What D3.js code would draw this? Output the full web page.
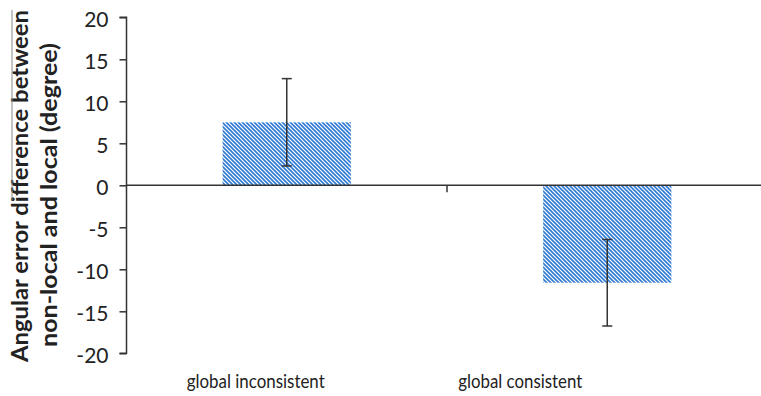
<!DOCTYPE html>
<html><head><meta charset="utf-8">
<script src="https://cdn.jsdelivr.net/npm/d3@7"></script>
<style>body{margin:0;background:#fff}svg{display:block}</style>
</head><body><svg id="c" width="761" height="396"></svg>
<script>
const categories = ["global inconsistent", "global consistent"];
const values = [7.5, -11.6];
const errors = [5.2, 5.15];
const yTicks = [-20, -15, -10, -5, 0, 5, 10, 15, 20];
const yTitle = ["Angular error difference between", "non-local and local (degree)"];

const svg = d3.select("#c");
const axisX = 126.5;
const x = d3.scaleBand().domain(categories).range([126.5, 767.5]).paddingInner(0).paddingOuter(0);
const y = d3.scaleLinear().domain([-20, 20]).range([353.3, 17.3]);
const barW = x.bandwidth() * 0.4;

const defs = svg.append("defs");
const pat = defs.append("pattern").attr("id", "hatch").attr("patternUnits", "userSpaceOnUse")
  .attr("width", 4).attr("height", 4);
pat.append("rect").attr("width", 4).attr("height", 4).attr("fill", "#fff");
pat.append("path").attr("d", "M-1,-1L5,5M-1,3L1,5M3,-1L5,1")
  .attr("stroke", "#2f7bd3").attr("stroke-width", 1.6);

// bars
svg.selectAll("rect.bar").data(values).join("rect").attr("class", "bar")
  .attr("x", (d, i) => x(categories[i]) + (x.bandwidth() - barW) / 2)
  .attr("width", barW)
  .attr("y", d => y(Math.max(0, d)))
  .attr("height", d => Math.abs(y(d) - y(0)))
  .attr("fill", "url(#hatch)");

// zero line
svg.append("line").attr("x1", axisX).attr("x2", 761).attr("y1", y(0)).attr("y2", y(0))
  .attr("stroke", "#333").attr("stroke-width", 1.5);
// category separator tick
svg.append("line").attr("x1", x(categories[1])).attr("x2", x(categories[1]))
  .attr("y1", y(0)).attr("y2", y(0) + 7).attr("stroke", "#333").attr("stroke-width", 1.5);

// error bars
const eb = svg.selectAll("g.eb").data(values).join("g").attr("class", "eb");
eb.each(function(d, i) {
  const g = d3.select(this);
  const cx = x(categories[i]) + x.bandwidth() / 2;
  const top = y(d + errors[i]), bot = y(d - errors[i]);
  g.append("line").attr("x1", cx).attr("x2", cx).attr("y1", top).attr("y2", bot);
  g.append("line").attr("x1", cx - 5).attr("x2", cx + 5).attr("y1", top).attr("y2", top);
  g.append("line").attr("x1", cx - 5).attr("x2", cx + 5).attr("y1", bot).attr("y2", bot);
  g.selectAll("line").attr("stroke", "#333").attr("stroke-width", 1.5);
});

// y axis
const yAxis = d3.axisLeft(y).tickValues(yTicks).tickSize(7).tickPadding(11).tickFormat(d => String(d));
const ga = svg.append("g").attr("transform", `translate(${axisX},0)`).call(yAxis);
ga.select(".domain").attr("stroke", "#333").attr("stroke-width", 1.5).attr("d", `M-7,${y(20)}H0V${y(-20)}H-7`);
ga.selectAll(".tick line").attr("stroke", "#333").attr("stroke-width", 1.5);
ga.selectAll(".tick text").attr("fill", "#222").style("font-family", "Lato, sans-serif")
  .style("font-size", "21px").attr("dy", "0.42em");

// y title
const titleX = [28, 57], titleY = [186, 195], titleLen = [352, 304];
yTitle.forEach((t, i) => {
  svg.append("text").text(t)
    .attr("transform", `translate(${titleX[i]},${titleY[i]}) rotate(-90)`)
    .attr("text-anchor", "middle")
    .attr("textLength", titleLen[i]).attr("lengthAdjust", "spacingAndGlyphs")
    .style("font-family", "Lato, sans-serif").style("font-weight", "bold").style("font-size", "22px")
    .attr("fill", "#222");
});
// thin artifact line
svg.append("line").attr("x1", 12).attr("x2", 12).attr("y1", 10).attr("y2", 200)
  .attr("stroke", "#888").attr("stroke-width", 1);

// category labels
const labelShift = [-31, -87], labelLen = [138, 124];
svg.selectAll("text.cat").data(categories).join("text").attr("class", "cat")
  .attr("x", (d, i) => x(d) + x.bandwidth() / 2 + labelShift[i])
  .attr("y", 388).attr("text-anchor", "middle")
  .attr("textLength", (d, i) => labelLen[i]).attr("lengthAdjust", "spacingAndGlyphs")
  .style("font-family", "Lato, sans-serif").style("font-size", "19px").attr("fill", "#222")
  .text(d => d);
</script></body></html>
